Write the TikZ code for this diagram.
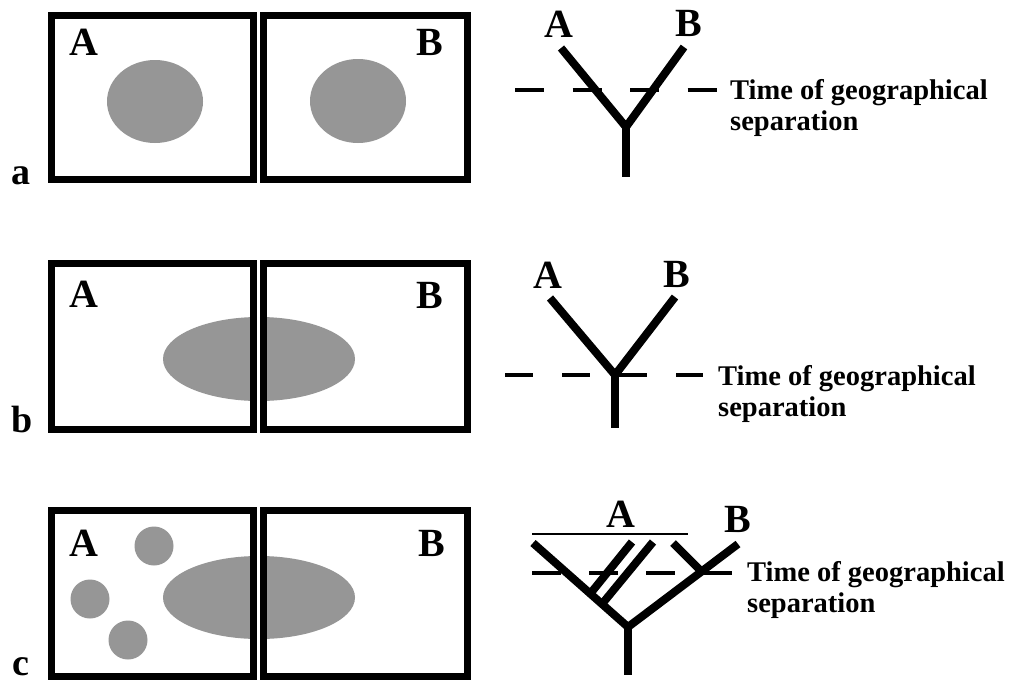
\documentclass[tikz,border=0pt]{standalone}
\usepackage{fontspec}
\setmainfont{Liberation Serif}
\definecolor{blob}{RGB}{150,150,150}
\tikzset{
  frame/.style={draw=black,line width=7pt},
  gapline/.style={draw=white,line width=3pt},
  blobfill/.style={fill=blob},
  branch/.style={draw=black,line width=8pt,line cap=butt,line join=miter},
  sepline/.style={draw=black,line width=4pt,dash pattern=on 29pt off 28.5pt},
  thinline/.style={draw=black,line width=2pt},
  bigletter/.style={inner sep=0pt,anchor=base,font=\fontsize{40}{40}\selectfont\bfseries},
  panellabel/.style={inner sep=0pt,anchor=base,font=\fontsize{38}{38}\selectfont\bfseries},
  caption/.style={inner sep=0pt,anchor=base west,font=\fontsize{28.5}{30}\selectfont\bfseries}
}
\begin{document}
\begin{tikzpicture}[x=1pt,y=-1pt]
\useasboundingbox (0,0) rectangle (1011,683);
\fill[white] (0,0) rectangle (1011,683);

% ---------- panel a ----------
\fill[blobfill] (155,101.5) ellipse [x radius=48pt, y radius=41.5pt];
\fill[blobfill] (358,101) ellipse [x radius=48pt, y radius=42pt];
\draw[frame] (51.5,15.5) rectangle (253.5,179.5);
\draw[frame] (263.5,15.5) rectangle (467.5,179.5);
\draw[gapline] (258.5,12) -- (258.5,183);
\node[bigletter] (aA) at (84,55) {A};
\node[bigletter] (aB) at (429.5,55) {B};
\node[panellabel] (la) at (21,184) {a};

\coordinate (aAt) at (561,48);
\coordinate (aBt) at (684,47);
\coordinate (aJ) at (626,127);
\coordinate (aR) at (626,177);
\coordinate (aS1) at (515,90);
\coordinate (aS2) at (718,90);
\draw[branch] (aAt) -- (aJ) -- (aBt);
\draw[branch] (aJ) -- (aR);
\draw[sepline] (aS1) -- (aS2);
\node[bigletter] (taA) at (559,37) {A};
\node[bigletter] (taB) at (689,36) {B};
\node[caption] (ta1) at (730,99) {Time of geographical};
\node[caption] (ta2) at (730,130) {separation};

% ---------- panel b ----------
\fill[blobfill] (259,359) ellipse [x radius=96pt, y radius=42pt];
\draw[frame] (51.5,263.5) rectangle (253.5,429.5);
\draw[frame] (263.5,263.5) rectangle (467.5,429.5);
\draw[gapline] (258.5,260) -- (258.5,433);
\node[bigletter] (bA) at (84,307) {A};
\node[bigletter] (bB) at (430,308) {B};
\node[panellabel] (lb) at (22,432) {b};

\coordinate (bAt) at (550,298);
\coordinate (bBt) at (675,297);
\coordinate (bJ) at (615,375);
\coordinate (bR) at (615,428);
\coordinate (bS1) at (505,375);
\coordinate (bS2) at (703,375);
\draw[branch] (bAt) -- (bJ) -- (bBt);
\draw[branch] (bJ) -- (bR);
\draw[sepline,dash pattern=on 27.5pt off 29.5pt] (bS1) -- (bS2);
\node[bigletter] (tbA) at (548,288) {A};
\node[bigletter] (tbB) at (677,287) {B};
\node[caption] (tb1) at (718,385) {Time of geographical};
\node[caption] (tb2) at (718,416) {separation};

% ---------- panel c ----------
\fill[blobfill] (259,597.5) ellipse [x radius=96pt, y radius=41.5pt];
\fill[blobfill] (154,546) circle [radius=19.5pt];
\fill[blobfill] (90,599) circle [radius=19.5pt];
\fill[blobfill] (128,640) circle [radius=19.5pt];
\draw[frame] (51.5,510.5) rectangle (253.5,676.5);
\draw[frame] (263.5,510.5) rectangle (467.5,676.5);
\draw[gapline] (258.5,507) -- (258.5,680);
\node[bigletter] (cA) at (84,556) {A};
\node[bigletter] (cB) at (432,556) {B};
\node[panellabel] (lc) at (21,675) {c};

\coordinate (cL) at (533,543);
\coordinate (cJ) at (628,627);
\coordinate (cR) at (628,675);
\coordinate (cBt) at (738,544);
\coordinate (cK) at (702,572);
\coordinate (cKt) at (673,543);
\coordinate (cP1t) at (632,542);
\coordinate (cP1b) at (590,594);
\coordinate (cP2t) at (653,542);
\coordinate (cP2b) at (602,604);
\coordinate (cT1) at (532,534);
\coordinate (cT2) at (688,534);
\coordinate (cS1) at (532,573);
\coordinate (cS2) at (733,573);
\draw[thinline] (cT1) -- (cT2);
\draw[sepline,dash pattern=on 29pt off 28pt] (cS1) -- (cS2);
\draw[branch] (cL) -- (cJ) -- (cBt);
\draw[branch] (cJ) -- (cR);
\draw[branch] (cKt) -- (cK);
\draw[branch] (cP1t) -- (cP1b);
\draw[branch] (cP2t) -- (cP2b);
\node[bigletter] (tcA) at (621,527) {A};
\node[bigletter] (tcB) at (738,532) {B};
\node[caption] (tc1) at (747,581) {Time of geographical};
\node[caption] (tc2) at (747,612) {separation};
\end{tikzpicture}
\end{document}
